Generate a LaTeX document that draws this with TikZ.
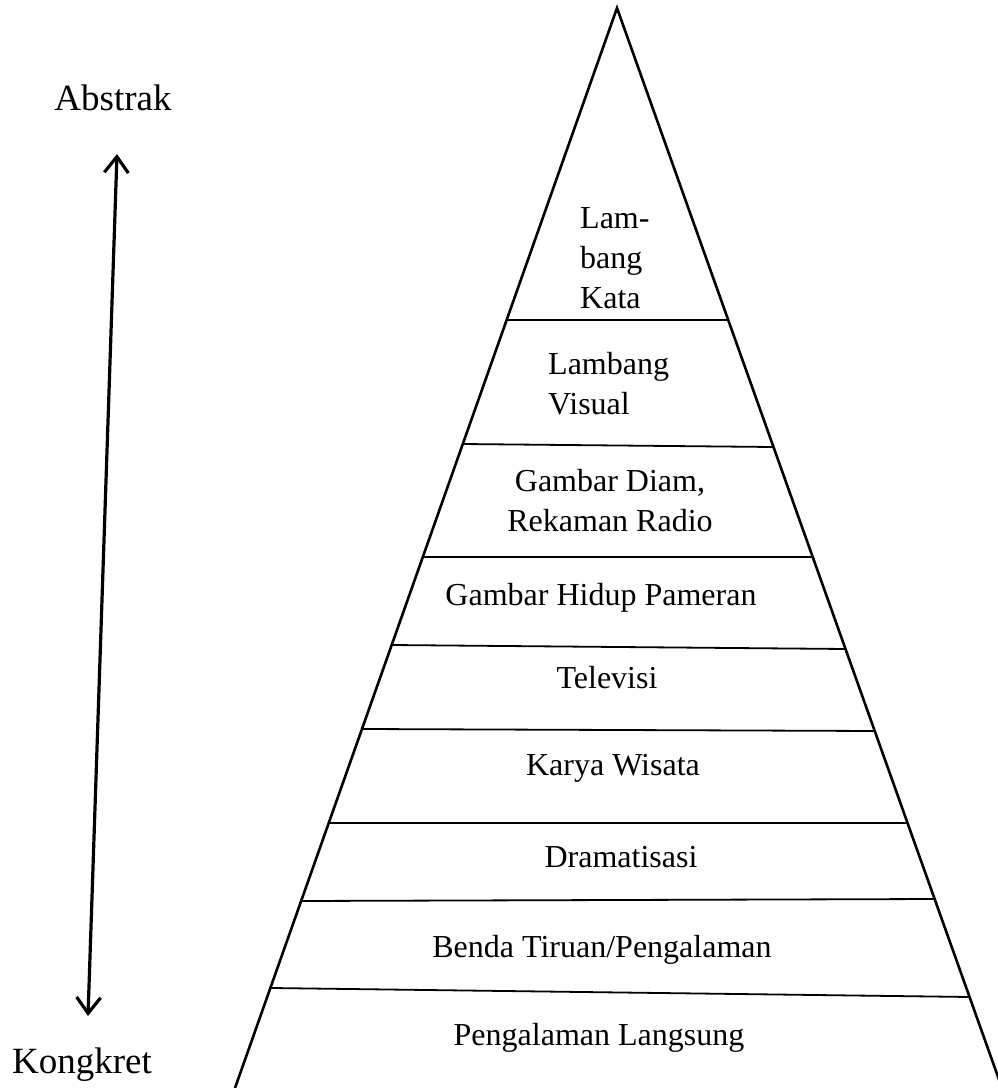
\documentclass[tikz,border=0pt]{standalone}
\usepackage{fontspec}
\setmainfont{Liberation Serif}
\usetikzlibrary{calc,arrows.meta}
\begin{document}
\begin{tikzpicture}[x=1pt, y=-1pt, >={Straight Barb[length=16pt,width=24pt]},
    lvltext/.style={font=\fontsize{32}{40}\selectfont, inner sep=0pt},
    pole/.style={font=\fontsize{37}{42}\selectfont, inner sep=0pt},
    sideline/.style={line width=2.6pt},
    rungline/.style={line width=1.8pt}]
\useasboundingbox (0,0) rectangle (998,1088);
\coordinate (apex) at (617,8);
\coordinate (bl) at (235,1088);
\coordinate (br) at (1002,1088);
\draw[sideline] (bl)--(apex)--(br);
\foreach \yl/\yr in {320/320, 444/447, 557/557, 645/649, 729/731, 823/823, 901/899, 988/997}
{
\draw[rungline] ($(apex)!{(\yl-8)/1080}!(bl)$)--($(apex)!{(\yr-8)/1080}!(br)$);
}
\node[lvltext, align=left, anchor=west] (kata) at (580,258) {Lam-\\bang\\Kata};
\node[lvltext, align=left, anchor=west] (visual) at (548,384) {Lambang\\Visual};
\node[lvltext, align=center] (diam) at (610,501) {Gambar Diam,\\Rekaman Radio};
\node[lvltext, anchor=base] (hidup) at (601,605) {Gambar Hidup Pameran};
\node[lvltext, anchor=base] (tv) at (607,688) {Televisi};
\node[lvltext, anchor=base] (wisata) at (613,775) {Karya Wisata};
\node[lvltext, anchor=base] (drama) at (621,867) {Dramatisasi};
\node[lvltext, anchor=base] (tiruan) at (602,957) {Benda Tiruan/Pengalaman};
\node[lvltext, anchor=base] (langsung) at (599,1045) {Pengalaman Langsung};
\node[pole, anchor=base] (abstrak) at (113,110) {Abstrak};
\node[pole, anchor=base] (kongkret) at (82,1073) {Kongkret};
\coordinate (up) at (117,154);
\coordinate (down) at (88,1016);
\draw[<->, line width=3.2pt] (down)--(up);
\end{tikzpicture}
\end{document}
